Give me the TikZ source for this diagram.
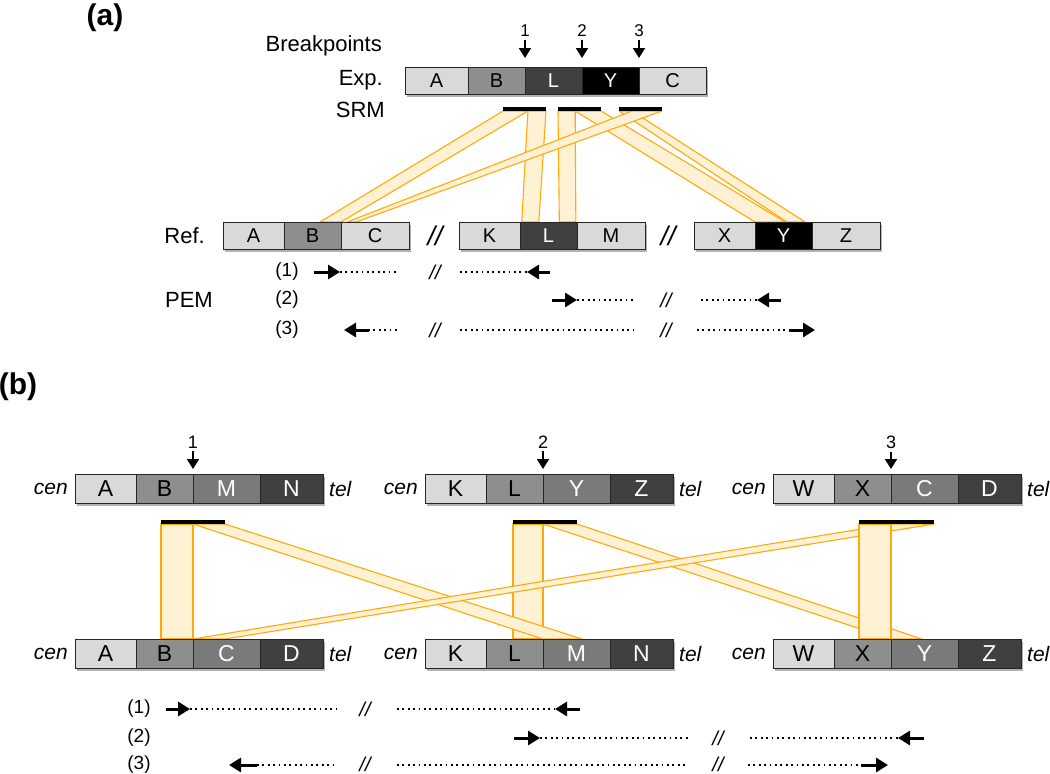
\documentclass[tikz,border=0pt]{standalone}
\usepackage{fontspec}
\setmainfont{Liberation Sans}
\usetikzlibrary{positioning,calc,arrows.meta,backgrounds}

\definecolor{hell}{RGB}{217,217,217}
\definecolor{mittel}{RGB}{142,142,142}
\definecolor{mittelb}{RGB}{122,122,122}
\definecolor{dunkel}{RGB}{64,64,64}
\definecolor{bandfill}{RGB}{255,241,212}
\definecolor{bandline}{RGB}{255,170,10}

\tikzset{
  seg/.style={draw=black!85, line width=0.9pt, inner sep=0pt, outer sep=0pt,
    minimum height=27, anchor=west, font=\fontsize{20}{24}\selectfont},
  segb/.style={seg, minimum height=29, font=\fontsize{23}{27}\selectfont},
  lab/.style={inner sep=1pt, font=\fontsize{22}{26}\selectfont},
  zahl/.style={inner sep=1pt, font=\fontsize{17}{20}\selectfont},
  zahlb/.style={inner sep=1pt, font=\fontsize{18}{21}\selectfont},
  kursiv/.style={inner sep=1pt, font=\fontsize{21}{25}\selectfont\itshape},
  titel/.style={inner sep=0pt, font=\fontsize{30}{34}\selectfont\bfseries},
  bruch/.style={inner sep=0pt, font=\fontsize{27}{30}\selectfont\itshape},
  bruchk/.style={inner sep=0pt, font=\fontsize{20}{22}\selectfont\itshape},
  klein/.style={inner sep=0pt, font=\fontsize{19}{22}\selectfont},
  srmbar/.style={fill=black, inner sep=0pt, outer sep=0pt, minimum height=4},
  band/.style={fill=bandfill, draw=bandline, line width=1.1pt, line join=round},
  bppfeil/.style={line width=1.8pt, shorten <=2pt, -{Triangle[length=10pt,width=12pt]}},
  pempfeil/.style={line width=3pt, -{Triangle[length=12pt,width=14pt]}},
  punkte/.style={line width=1.8pt, dash pattern=on 1.8pt off 3.6pt},
}
\newcommand{\schatten}[2]{\fill[black, opacity=0.3] ([shift={(1.5,2.5)}]#1.north west) rectangle ([shift={(1.5,2.5)}]#2.south east);}

\begin{document}
\begin{tikzpicture}[x=1pt, y=-1pt]
  \useasboundingbox (0,0) rectangle (1050,774);

  % Teil (a)
  \node[titel] (ta) at (105,18) {(a)};
  \node[lab, anchor=east] (bp) at (383,46) {Breakpoints};
  \node[lab, anchor=east] (exp) at (384,80.5) {Exp.};
  \node[lab, anchor=east] (srm) at (386,109.5) {SRM};
  \node[lab, anchor=east] (ref) at (206,235.5) {Ref.};
  \node[lab, anchor=east] (pem) at (214,300) {PEM};

  % Exp.
  \node[seg, fill=hell, minimum width=63] (eA) at (405,80.5) {A};
  \node[seg, fill=mittel, minimum width=57, right=0pt of eA] (eB) {B};
  \node[seg, fill=dunkel, text=white, minimum width=57, right=0pt of eB] (eL) {L};
  \node[seg, fill=black, text=white, minimum width=57, right=0pt of eL] (eY) {Y};
  \node[seg, fill=hell, minimum width=67, right=0pt of eY] (eC) {C};

  % Bruchstellen
  \foreach \n/\s in {1/eL, 2/eY, 3/eC} {
    \node[zahl] (z\n) at ($(\s.north west)+(0,-36)$) {\n};
    \draw[bppfeil] (z\n) -- ([yshift=9pt]\s.north west);
  }

  % SRM
  \node[srmbar, minimum width=43] (s1) at (524.5,109) {};
  \node[srmbar, minimum width=43] (s2) at (579.5,109) {};
  \node[srmbar, minimum width=43] (s3) at (640.5,109) {};

  % Referenz
  \node[seg, fill=hell, minimum width=61] (rA) at (223,235.5) {A};
  \node[seg, fill=mittel, minimum width=57, right=0pt of rA] (rB) {B};
  \node[seg, fill=hell, minimum width=68, right=0pt of rB] (rC) {C};
  \node[bruch] (br1) at (435,235.5) {//};
  \node[seg, fill=hell, minimum width=61] (rK) at (459,235.5) {K};
  \node[seg, fill=dunkel, text=white, minimum width=57, right=0pt of rK] (rL) {L};
  \node[seg, fill=hell, minimum width=68, right=0pt of rL] (rM) {M};
  \node[bruch] (br2) at (668,235.5) {//};
  \node[seg, fill=hell, minimum width=61] (rX) at (694,235.5) {X};
  \node[seg, fill=black, text=white, minimum width=57, right=0pt of rX] (rY) {Y};
  \node[seg, fill=hell, minimum width=68, right=0pt of rY] (rZ) {Z};

  % Baender (a)
  \begin{scope}[on background layer]
    \schatten{eA}{eC}
    \schatten{rA}{rC}
    \schatten{rK}{rM}
    \schatten{rX}{rZ}
    \filldraw[band] ($(s1.south west)!.58!(s1.south east)$) -- (s1.south east)
      -- ($(rL.north west)!.33!(rL.north east)$) -- ($(rL.north west)!.03!(rL.north east)$) -- cycle;
    \filldraw[band] (s2.south west) -- ($(s2.south west)!.4!(s2.south east)$)
      -- ($(rL.north west)!.98!(rL.north east)$) -- ($(rL.north west)!.69!(rL.north east)$) -- cycle;
    \filldraw[band] (s1.south west) -- ($(s1.south west)!.58!(s1.south east)$)
      -- (rB.north east) -- ($(rB.north west)!.63!(rB.north east)$) -- cycle;
    \filldraw[band] ($(s2.south west)!.4!(s2.south east)$) -- (s2.south east)
      -- ($(rY.north west)!.53!(rY.north east)$) -- (rY.north west) -- cycle;
    \filldraw[band] (s3.south west) -- ($(s3.south west)!.3!(s3.south east)$)
      -- ($(rY.north west)!.88!(rY.north east)$) -- ($(rY.north west)!.56!(rY.north east)$) -- cycle;
    \filldraw[band] ($(s3.south west)!.3!(s3.south east)$) -- (s3.south east)
      -- ($(rC.north west)!.22!(rC.north east)$) -- ($(rC.north west)!.09!(rC.north east)$) -- cycle;
  \end{scope}

  % PEM (a)
  \node[klein] (p1) at (287,272) {(1)};
  \node[klein] (p2) at (287,300) {(2)};
  \node[klein] (p3) at (287,330) {(3)};
  % (1)
  \draw[punkte] (340,272) -- (398,272);
  \node[bruchk] (p1a) at (435,272) {//};
  \draw[punkte] (460,272) -- (527,272);
  \draw[pempfeil] (314,272) -- (340,272);
  \draw[pempfeil] (550,272) -- (527,272);
  % (2)
  \draw[punkte] (577,300) -- (634,300);
  \node[bruchk] (p2a) at (666,300) {//};
  \draw[punkte] (701,300) -- (757,300);
  \draw[pempfeil] (552,300) -- (577,300);
  \draw[pempfeil] (781,300) -- (757,300);
  % (3)
  \draw[punkte] (368,330) -- (398,330);
  \node[bruchk] (p3a) at (435,330) {//};
  \draw[punkte] (460,330) -- (634,330);
  \node[bruchk] (p3b) at (666,330) {//};
  \draw[punkte] (697,330) -- (790,330);
  \draw[pempfeil] (369,330) -- (344,330);
  \draw[pempfeil] (789,330) -- (815,330);

  % Teil (b)
  \node[titel] (tb) at (18,387) {(b)};

  % obere Reihe
  \node[segb, fill=hell, minimum width=61] (oA) at (75,488.5) {A};
  \node[segb, fill=mittel, minimum width=57, right=0pt of oA] (oB) {B};
  \node[segb, fill=mittelb, text=white, minimum width=67, right=0pt of oB] (oM) {M};
  \node[segb, fill=dunkel, text=white, minimum width=63, right=0pt of oM] (oN) {N};
  \node[segb, fill=hell, minimum width=61] (oK) at (425,488.5) {K};
  \node[segb, fill=mittel, minimum width=57, right=0pt of oK] (oL) {L};
  \node[segb, fill=mittelb, text=white, minimum width=67, right=0pt of oL] (oY) {Y};
  \node[segb, fill=dunkel, text=white, minimum width=63, right=0pt of oY] (oZ) {Z};
  \node[segb, fill=hell, minimum width=61] (oW) at (773,488.5) {W};
  \node[segb, fill=mittel, minimum width=57, right=0pt of oW] (oX) {X};
  \node[segb, fill=mittelb, text=white, minimum width=67, right=0pt of oX] (oC) {C};
  \node[segb, fill=dunkel, text=white, minimum width=63, right=0pt of oC] (oD) {D};
  \node[kursiv, left=6pt of oA] (cen1) {cen};
  \node[kursiv, right=5pt of oN] (tel1) {tel};
  \node[kursiv, left=6pt of oK] (cen2) {cen};
  \node[kursiv, right=5pt of oZ] (tel2) {tel};
  \node[kursiv, left=6pt of oW] (cen3) {cen};
  \node[kursiv, right=5pt of oD] (tel3) {tel};

  % untere Reihe
  \node[segb, fill=hell, minimum width=61] (uA) at (75,653.5) {A};
  \node[segb, fill=mittel, minimum width=57, right=0pt of uA] (uB) {B};
  \node[segb, fill=mittelb, text=white, minimum width=67, right=0pt of uB] (uC) {C};
  \node[segb, fill=dunkel, text=white, minimum width=63, right=0pt of uC] (uD) {D};
  \node[segb, fill=hell, minimum width=61] (uK) at (425,653.5) {K};
  \node[segb, fill=mittel, minimum width=57, right=0pt of uK] (uL) {L};
  \node[segb, fill=mittelb, text=white, minimum width=67, right=0pt of uL] (uM) {M};
  \node[segb, fill=dunkel, text=white, minimum width=63, right=0pt of uM] (uN) {N};
  \node[segb, fill=hell, minimum width=61] (uW) at (773,653.5) {W};
  \node[segb, fill=mittel, minimum width=57, right=0pt of uW] (uX) {X};
  \node[segb, fill=mittelb, text=white, minimum width=67, right=0pt of uX] (uY) {Y};
  \node[segb, fill=dunkel, text=white, minimum width=63, right=0pt of uY] (uZ) {Z};
  \node[kursiv, left=6pt of uA] (cen4) {cen};
  \node[kursiv, right=5pt of uD] (tel4) {tel};
  \node[kursiv, left=6pt of uK] (cen5) {cen};
  \node[kursiv, right=5pt of uN] (tel5) {tel};
  \node[kursiv, left=6pt of uW] (cen6) {cen};
  \node[kursiv, right=5pt of uZ] (tel6) {tel};

  % Bruchstellen (b)
  \foreach \n/\s in {1/oB, 2/oL, 3/oX} {
    \node[zahlb] (y\n) at ($(\s.north east)+(0,-32)$) {\n};
    \draw[bppfeil] (y\n) -- ([yshift=5pt]\s.north east);
  }

  % SRM (b)
  \node[srmbar, minimum width=64] (sb1) at (193,522) {};
  \node[srmbar, minimum width=64] (sb2) at (545,522) {};
  \node[srmbar, minimum width=75] (sb3) at (896.5,522) {};

  % Baender (b)
  \begin{scope}[on background layer]
    \schatten{oA}{oN}
    \schatten{oK}{oZ}
    \schatten{oW}{oD}
    \schatten{uA}{uD}
    \schatten{uK}{uN}
    \schatten{uW}{uZ}
    \filldraw[band] (sb1.south west) rectangle (uB.north east);
    \filldraw[band] (sb2.south west) rectangle (uL.north east);
    \filldraw[band] ($(sb1.south west)!.5!(sb1.south east)$) -- (sb1.south east)
      -- ($(uM.north west)!.58!(uM.north east)$) -- (uM.north west) -- cycle;
    \filldraw[band] ($(sb2.south west)!.47!(sb2.south east)$) -- (sb2.south east)
      -- ($(uY.north west)!.46!(uY.north east)$) -- (uY.north west) -- cycle;
    \filldraw[band] ($(sb3.south west)!.43!(sb3.south east)$) -- (sb3.south east)
      -- ($(uC.north west)!.48!(uC.north east)$) -- (uC.north west) -- cycle;
    \filldraw[band] (sb3.south west) rectangle (uX.north east);
  \end{scope}

  % PEM (b)
  \node[klein] (q1) at (139,709) {(1)};
  \node[klein] (q2) at (139,738) {(2)};
  \node[klein] (q3) at (139,765) {(3)};
  % (1)
  \draw[punkte] (190,709) -- (337,709);
  \node[bruchk] (q1a) at (365,709) {//};
  \draw[punkte] (397,709) -- (555,709);
  \draw[pempfeil] (166,709) -- (190,709);
  \draw[pempfeil] (580,709) -- (555,709);
  % (2)
  \draw[punkte] (540,738) -- (688,738);
  \node[bruchk] (q2a) at (718,738) {//};
  \draw[punkte] (750,738) -- (898,738);
  \draw[pempfeil] (514,738) -- (540,738);
  \draw[pempfeil] (924,738) -- (898,738);
  % (3)
  \draw[punkte] (257,765) -- (337,765);
  \node[bruchk] (q3a) at (365,764) {//};
  \draw[punkte] (397,765) -- (688,765);
  \node[bruchk] (q3b) at (718,764) {//};
  \draw[punkte] (748,765) -- (862,765);
  \draw[pempfeil] (257,765) -- (229,765);
  \draw[pempfeil] (861,765) -- (888,765);
\end{tikzpicture}
\end{document}
